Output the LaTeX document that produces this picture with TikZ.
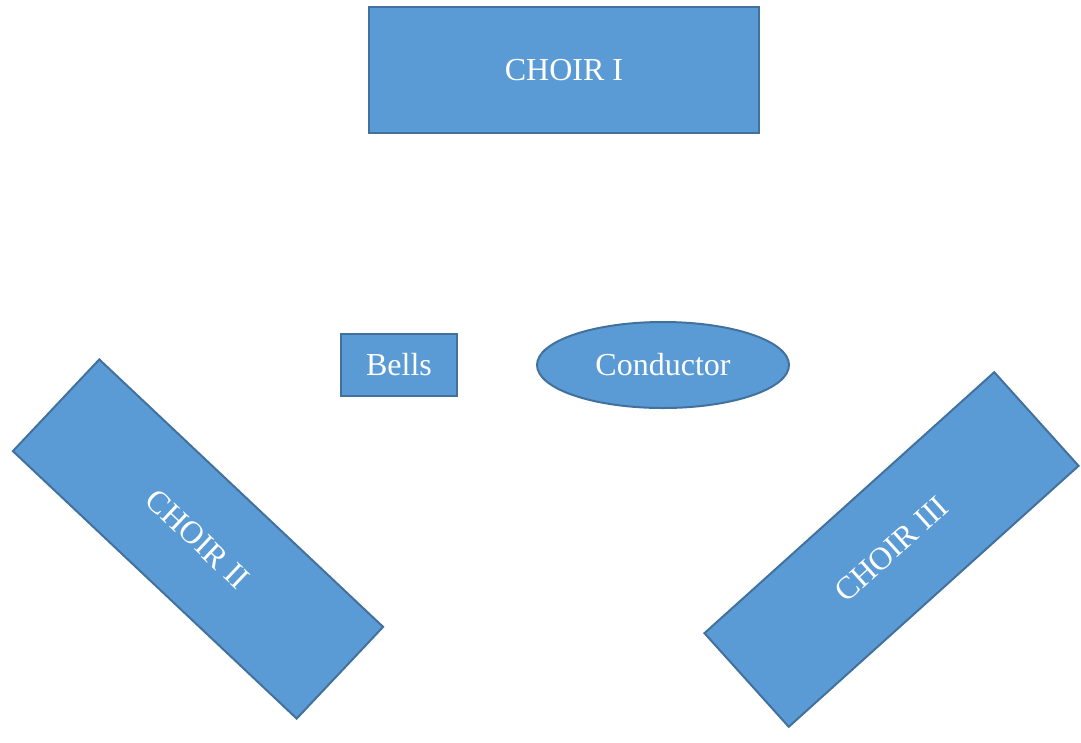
\documentclass[tikz,border=0pt]{standalone}
\usepackage{fontspec}
\setmainfont{Liberation Serif}
\usetikzlibrary{shapes.geometric}
\definecolor{boxfill}{HTML}{5B9BD5}
\definecolor{boxline}{HTML}{41719C}

\begin{document}
\begin{tikzpicture}[x=1pt, y=-1pt, font=\fontsize{32}{38}\selectfont, text=white]
	\tikzstyle{block}=[draw=boxline, fill=boxfill, line width=2pt, inner sep=0pt]
	\tikzstyle{choir}=[block, minimum width=390pt, minimum height=126pt]
	\useasboundingbox (0,0) rectangle (1081,742);
	
	\node(choirI)[choir] at (564,70) {CHOIR I};
	\node(choirII)[choir, rotate=-43.3] at (198,539) {CHOIR II};
	\node(choirIII)[choir, rotate=42] at (891.5,549.5) {CHOIR III};
	
	\node(bells)[block, minimum width=116pt, minimum height=62pt] at (399,365) {Bells};
	\node(conductor)[block, ellipse, minimum width=252pt, minimum height=86pt] at (663,365) {Conductor};
\end{tikzpicture}
\end{document}
